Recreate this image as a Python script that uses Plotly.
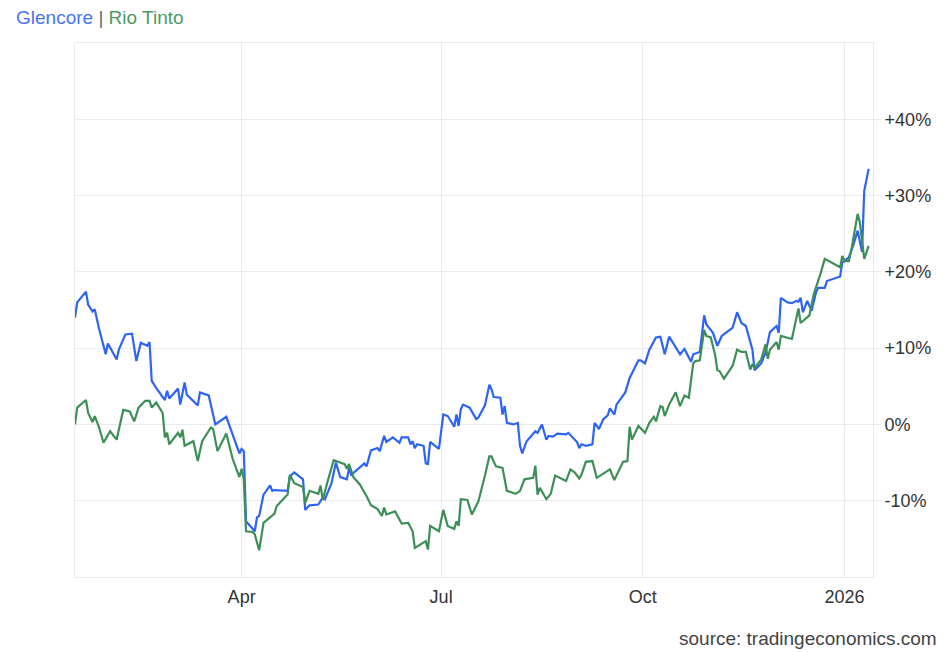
import plotly.graph_objects as go

# Glencore, % change since start of period
glencore_dates = [
    '2025-01-15', '2025-01-16', '2025-01-20', '2025-01-21', '2025-01-23', '2025-01-24',
    '2025-01-26', '2025-01-29', '2025-01-30', '2025-02-03', '2025-02-04', '2025-02-07',
    '2025-02-10', '2025-02-12', '2025-02-14', '2025-02-17', '2025-02-18', '2025-02-19',
    '2025-02-21', '2025-02-25', '2025-02-26', '2025-02-27', '2025-03-03', '2025-03-04',
    '2025-03-06', '2025-03-07', '2025-03-12', '2025-03-13', '2025-03-17', '2025-03-20',
    '2025-03-25', '2025-03-28', '2025-03-31', '2025-04-01', '2025-04-02', '2025-04-03',
    '2025-04-07', '2025-04-08', '2025-04-09', '2025-04-11', '2025-04-14', '2025-04-15',
    '2025-04-16', '2025-04-22', '2025-04-23', '2025-04-25', '2025-04-29', '2025-04-30',
    '2025-05-02', '2025-05-06', '2025-05-08', '2025-05-09', '2025-05-12', '2025-05-14',
    '2025-05-16', '2025-05-19', '2025-05-20', '2025-05-21', '2025-05-27', '2025-05-28',
    '2025-05-30', '2025-06-02', '2025-06-03', '2025-06-05', '2025-06-06', '2025-06-09',
    '2025-06-12', '2025-06-13', '2025-06-16', '2025-06-17', '2025-06-18', '2025-06-19',
    '2025-06-20', '2025-06-23', '2025-06-24', '2025-06-25', '2025-06-26', '2025-06-30',
    '2025-07-02', '2025-07-04', '2025-07-07', '2025-07-08', '2025-07-09', '2025-07-10',
    '2025-07-11', '2025-07-14', '2025-07-17', '2025-07-18', '2025-07-21', '2025-07-23',
    '2025-07-24', '2025-07-25', '2025-07-28', '2025-07-29', '2025-07-30', '2025-07-31',
    '2025-08-03', '2025-08-05', '2025-08-06', '2025-08-07', '2025-08-09', '2025-08-13',
    '2025-08-14', '2025-08-16', '2025-08-18', '2025-08-19', '2025-08-21', '2025-08-23',
    '2025-08-27', '2025-08-28', '2025-08-31', '2025-09-01', '2025-09-02', '2025-09-03',
    '2025-09-05', '2025-09-08', '2025-09-09', '2025-09-11', '2025-09-13', '2025-09-15',
    '2025-09-16', '2025-09-18', '2025-09-19', '2025-09-23', '2025-09-25', '2025-09-29',
    '2025-09-30', '2025-10-02', '2025-10-04', '2025-10-07', '2025-10-09', '2025-10-11',
    '2025-10-13', '2025-10-15', '2025-10-18', '2025-10-20', '2025-10-23', '2025-10-24',
    '2025-10-27', '2025-10-29', '2025-10-30', '2025-11-02', '2025-11-04', '2025-11-06',
    '2025-11-08', '2025-11-11', '2025-11-13', '2025-11-15', '2025-11-17', '2025-11-19',
    '2025-11-20', '2025-11-21', '2025-11-24', '2025-11-26', '2025-11-28', '2025-12-01',
    '2025-12-02', '2025-12-03', '2025-12-06', '2025-12-08', '2025-12-10', '2025-12-11',
    '2025-12-12', '2025-12-13', '2025-12-15', '2025-12-17', '2025-12-19', '2025-12-20',
    '2025-12-23', '2025-12-24', '2025-12-30', '2025-12-31', '2026-01-02', '2026-01-03',
    '2026-01-05', '2026-01-07', '2026-01-09', '2026-01-10', '2026-01-12',
]
glencore_pct = [
    14.0, 16.0, 17.4, 15.7, 14.8, 15.1,
    12.5, 9.2, 10.6, 8.5, 9.8, 11.8,
    11.9, 8.3, 10.7, 10.3, 10.8, 5.7,
    4.8, 3.2, 4.4, 3.4, 4.7, 2.6,
    5.5, 3.9, 2.5, 4.2, 3.8, 0.0,
    1.0, -1.5, -3.8, -3.2, -3.5, -12.7,
    -14.0, -12.2, -12.0, -9.2, -8.0, -8.7,
    -8.6, -8.7, -6.8, -6.3, -7.2, -11.2,
    -10.6, -10.5, -9.6, -9.8, -7.7, -5.0,
    -6.9, -7.2, -5.7, -6.6, -5.1, -5.5,
    -3.4, -3.1, -3.5, -1.5, -2.3, -1.7,
    -2.4, -1.7, -1.7, -2.6, -2.2, -3.1,
    -2.6, -2.8, -5.1, -5.2, -2.3, -3.2,
    1.3, 1.1, -0.3, 1.3, -0.2, 2.0,
    2.6, 2.2, 0.7, 0.9, 2.5, 5.2,
    4.6, 3.6, 3.5, 1.3, 2.4, 0.2,
    0.0, 0.2, -2.8, -3.8, -2.2, -0.9,
    -1.1, 0.0, -2.0, -1.5, -1.6, -1.2,
    -1.3, -1.1, -1.9, -2.3, -3.1, -2.6,
    -2.8, -2.6, 0.2, -0.6, 0.7, 1.2,
    2.1, 1.3, 2.6, 4.2, 6.1, 8.4,
    8.4, 8.0, 9.8, 11.4, 11.5, 9.2,
    11.5, 10.6, 9.2, 9.9, 8.2, 9.2,
    9.5, 14.3, 13.1, 12.0, 10.3, 11.6,
    12.0, 12.7, 14.7, 13.3, 12.9, 10.9,
    9.8, 7.1, 8.0, 9.4, 12.1, 12.9,
    12.0, 16.6, 16.0, 15.9, 16.2, 16.1,
    16.6, 14.7, 16.2, 14.9, 17.3, 17.9,
    17.9, 18.8, 19.4, 21.2, 21.7, 21.9,
    23.5, 25.4, 22.6, 30.6, 33.5,
]

# Rio Tinto, % change since start of period
rio_dates = [
    '2025-01-15', '2025-01-16', '2025-01-20', '2025-01-21', '2025-01-23', '2025-01-24',
    '2025-01-26', '2025-01-28', '2025-01-31', '2025-02-03', '2025-02-04', '2025-02-06',
    '2025-02-09', '2025-02-11', '2025-02-13', '2025-02-16', '2025-02-18', '2025-02-19',
    '2025-02-21', '2025-02-24', '2025-02-25', '2025-02-26', '2025-02-27', '2025-03-03',
    '2025-03-04', '2025-03-05', '2025-03-06', '2025-03-10', '2025-03-12', '2025-03-14',
    '2025-03-18', '2025-03-19', '2025-03-21', '2025-03-25', '2025-03-28', '2025-03-31',
    '2025-04-01', '2025-04-02', '2025-04-03', '2025-04-06', '2025-04-07', '2025-04-09',
    '2025-04-11', '2025-04-15', '2025-04-16', '2025-04-17', '2025-04-22', '2025-04-23',
    '2025-04-25', '2025-04-29', '2025-04-30', '2025-05-02', '2025-05-06', '2025-05-07',
    '2025-05-08', '2025-05-10', '2025-05-13', '2025-05-15', '2025-05-18', '2025-05-19',
    '2025-05-20', '2025-05-22', '2025-05-25', '2025-05-28', '2025-05-30', '2025-06-02',
    '2025-06-04', '2025-06-05', '2025-06-06', '2025-06-10', '2025-06-13', '2025-06-16',
    '2025-06-18', '2025-06-19', '2025-06-24', '2025-06-25', '2025-06-26', '2025-06-30',
    '2025-07-02', '2025-07-04', '2025-07-07', '2025-07-08', '2025-07-09', '2025-07-10',
    '2025-07-13', '2025-07-15', '2025-07-18', '2025-07-21', '2025-07-23', '2025-07-24',
    '2025-07-26', '2025-07-29', '2025-07-31', '2025-08-04', '2025-08-06', '2025-08-08',
    '2025-08-12', '2025-08-13', '2025-08-14', '2025-08-15', '2025-08-18', '2025-08-20',
    '2025-08-22', '2025-08-27', '2025-08-29', '2025-08-31', '2025-09-02', '2025-09-03',
    '2025-09-05', '2025-09-08', '2025-09-10', '2025-09-16', '2025-09-18', '2025-09-22',
    '2025-09-24', '2025-09-25', '2025-09-26', '2025-09-29', '2025-10-01', '2025-10-02',
    '2025-10-04', '2025-10-06', '2025-10-07', '2025-10-09', '2025-10-10', '2025-10-11',
    '2025-10-13', '2025-10-16', '2025-10-18', '2025-10-20', '2025-10-22', '2025-10-24',
    '2025-10-25', '2025-10-27', '2025-10-29', '2025-10-30', '2025-11-01', '2025-11-03',
    '2025-11-04', '2025-11-05', '2025-11-07', '2025-11-11', '2025-11-13', '2025-11-15',
    '2025-11-17', '2025-11-19', '2025-11-20', '2025-11-21', '2025-11-24', '2025-11-26',
    '2025-11-27', '2025-11-28', '2025-12-01', '2025-12-02', '2025-12-03', '2025-12-08',
    '2025-12-11', '2025-12-12', '2025-12-16', '2025-12-18', '2025-12-21', '2025-12-23',
    '2025-12-30', '2025-12-31', '2026-01-01', '2026-01-03', '2026-01-04', '2026-01-07',
    '2026-01-08', '2026-01-10', '2026-01-12',
]
rio_pct = [
    0.0, 2.2, 3.2, 1.5, 0.3, 1.1,
    -0.4, -2.4, -0.9, -2.0, -0.7, 1.9,
    1.7, 0.4, 2.2, 3.1, 3.1, 2.2,
    2.9, 1.5, -1.7, -1.1, -2.6, -1.1,
    -1.7, -0.7, -2.8, -2.2, -4.8, -2.2,
    -0.4, -0.6, -3.5, -1.2, -4.6, -6.9,
    -5.8, -7.2, -14.0, -14.1, -14.4, -16.5,
    -12.9, -11.9, -11.7, -10.7, -9.2, -6.6,
    -7.7, -8.2, -10.3, -8.7, -9.1, -8.0,
    -9.9, -7.7, -4.7, -4.9, -5.2, -5.8,
    -5.2, -6.9, -7.9, -9.4, -10.6, -11.1,
    -12.0, -10.9, -11.8, -11.4, -13.0, -12.9,
    -14.0, -16.2, -15.3, -16.4, -13.3, -14.0,
    -11.2, -13.3, -13.7, -12.7, -13.3, -9.8,
    -9.9, -11.8, -10.1, -6.7, -4.2, -4.2,
    -5.5, -5.7, -8.7, -9.1, -8.7, -7.2,
    -7.0, -5.4, -9.2, -8.3, -9.8, -9.1,
    -6.7, -7.4, -5.9, -6.3, -7.1, -6.6,
    -4.9, -4.8, -7.0, -5.9, -7.3, -4.9,
    -4.8, -0.3, -2.0, -0.2, -0.9, -1.1,
    0.2, 1.0, 0.4, 2.4, 2.3, 1.1,
    2.6, 4.2, 2.4, 3.8, 3.5, 8.0,
    8.3, 8.4, 12.4, 11.6, 11.4, 9.1,
    7.1, 7.0, 6.0, 7.7, 9.8, 9.5,
    9.5, 7.2, 7.9, 7.4, 8.5, 10.5,
    8.6, 9.8, 10.8, 9.8, 11.6, 11.2,
    15.2, 13.3, 14.3, 17.1, 19.7, 21.7,
    20.6, 22.1, 21.4, 21.4, 22.7, 27.6,
    26.5, 21.7, 23.4,
]

x_tickvals = ['2025-04-01', '2025-07-01', '2025-10-01', '2026-01-01']
x_ticktext = ['Apr', 'Jul', 'Oct', '2026']
y_tickvals = [-10, 0, 10, 20, 30, 40]
y_ticktext = ['-10%', '0%', '+10%', '+20%', '+30%', '+40%']

BLUE = '#2e63f7'
GREEN = '#3d8f57'
GRID = '#e8eaec'

fig = go.Figure()
fig.add_trace(go.Scatter(x=glencore_dates, y=glencore_pct, name='Glencore',
                         mode='lines', line=dict(color=BLUE, width=2.2)))
fig.add_trace(go.Scatter(x=rio_dates, y=rio_pct, name='Rio Tinto',
                         mode='lines', line=dict(color=GREEN, width=2.2)))

fig.update_layout(
    width=948, height=652,
    margin=dict(l=75, r=75, t=43, b=75),
    paper_bgcolor='white', plot_bgcolor='white',
    showlegend=False,
    font=dict(family='Liberation Sans, Arial, sans-serif', size=18, color='#333333'),
    xaxis=dict(range=['2025-01-15', '2026-01-14'], automargin=False,
               tickvals=x_tickvals, ticktext=x_ticktext,
               showgrid=True, gridcolor=GRID, gridwidth=1,
               showline=True, linecolor=GRID, mirror=True,
               ticks='', ticklabelstandoff=3,
               tickfont=dict(size=18, color='#333333'),
               zeroline=False),
    yaxis=dict(range=[-20, 50], side='right', automargin=False,
               tickvals=y_tickvals, ticktext=y_ticktext,
               showgrid=True, gridcolor=GRID, gridwidth=1,
               showline=True, linecolor=GRID, mirror=True,
               ticks='outside', ticklen=7, tickcolor=GRID,
               ticklabelstandoff=0,
               tickfont=dict(size=18, color='#333333'),
               zeroline=False),
    annotations=[
        dict(text="<span style='color:#4a74f4'>Glencore</span>"
                  " <span style='color:#666666'>|</span> "
                  "<span style='color:#4c9a63'>Rio Tinto</span>",
             xref='paper', yref='paper', x=-61 / 798, y=1 + 38 / 534,
             xanchor='left', yanchor='top', showarrow=False,
             font=dict(size=19)),
        dict(text='source: tradingeconomics.com',
             xref='paper', yref='paper', x=1 + 66 / 798, y=-74 / 534,
             xanchor='right', yanchor='bottom', showarrow=False,
             font=dict(size=19, color='#444444')),
    ],
)

# drop the browser's default 8px body margin so the figure fills the window
fig.write_html('out.html', config={'displayModeBar': False},
               post_script="document.body.style.margin = '0';")
